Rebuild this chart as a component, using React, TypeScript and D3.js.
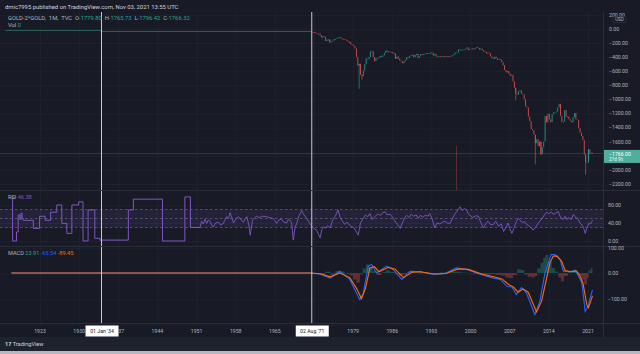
import React from "react";
import * as d3 from "d3";

const W = 640;
const H = 354;

// axis ticks
const yearTicks = d3.range(1923, 2022, 7);
const priceTicks = d3.range(200, -2201, -200);
const rsiTicks = [80, 40, 0];
const macdTicks = [100, 0, -100, -200];

// GOLD-2*GOLD (= -gold), flat era before the float
const earlyPrice: [number, number][] = [
  [1916.8, -20.67],
  [1934.0, -35],
  [1971.5, -40],
];

// quarterly closes from Q3 1971
const quarterStart = 1971.5;
const closes = [
  -42, -43,
  -48, -62, -65, -64,
  -90, -120, -100, -112,
  -170, -150, -150, -185,
  -178, -166, -142, -140,
  -130, -124, -116, -134,
  -148, -142, -154, -164,
  -182, -184, -218, -226,
  -242, -278, -398, -520,
  -494, -650, -668, -590,
  -500, -420, -430, -398,
  -320, -316, -398, -456,
  -414, -416, -404, -382,
  -394, -374, -342, -308,
  -330, -318, -326, -326,
  -344, -346, -424, -390,
  -420, -448, -460, -486,
  -456, -438, -398, -410,
  -386, -372, -366, -400,
  -368, -352, -408, -386,
  -356, -366, -354, -354,
  -342, -344, -350, -334,
  -338, -376, -356, -390,
  -390, -386, -396, -384,
  -384, -388, -384, -388,
  -396, -382, -378, -370,
  -350, -334, -332, -290,
  -300, -296, -294, -288,
  -280, -262, -298, -290,
  -278, -290, -274, -272,
  -258, -270, -292, -278,
  -302, -318, -324, -346,
  -334, -346, -388, -416,
  -426, -394, -416, -438,
  -428, -436, -472, -514,
  -582, -614, -598, -632,
  -662, -650, -742, -834,
  -916, -930, -884, -870,
  -916, -928, -996, -1096,
  -1114, -1244, -1308, -1420,
  -1438, -1502, -1620, -1564,
  -1662, -1598, -1772, -1676,
  -1596, -1234, -1326, -1204,
  -1284, -1322, -1210, -1184,
  -1184, -1172, -1114, -1062,
  -1234, -1320, -1314, -1150,
  -1248, -1242, -1280, -1302,
  -1324, -1252, -1192, -1282,
  -1292, -1408, -1472, -1518,
  -1578, -1780, -1886, -1896,
  -1708, -1770, -1756, -1766,
];

// spike extremes [year, value]
const wicks: [number, number][] = [
  [1974.9, -197],
  [1980.0, -850],
  [1980.6, -720],
  [2008.1, -1010],
  [2011.6, -1920],
  [2012.7, -1790],
  [2020.6, -2070],
  [2021.2, -1880],
];

const volumes: [number, number][] = [[1997.4, 1]];

// RSI
const rsiEarly: [number, number][] = [
  [1917.9, 96], [1918.1, 0], [1918.8, 20], [1919.1, 58], [1919.4, 48],
  [1919.6, 62], [1919.8, 50], [1920.0, 46], [1921.8, 28], [1922.9, 55],
  [1923.9, 46], [1924.9, 64], [1926.0, 80], [1926.9, 39], [1927.8, 17],
  [1928.7, 80], [1929.9, 87], [1930.7, 0], [1931.6, 69], [1932.8, 6],
  [1933.7, 2], [1938.8, 69], [1939.7, 93], [1944.9, 0], [1948.9, 98],
  [1949.9, 30], [1951.6, 30],
];
const rsiLate: [number, number][] = [
  [1951.6, 30], [1951.9, 44], [1952.2, 38], [1952.5, 48], [1952.8, 39],
  [1953.1, 47], [1953.4, 44], [1953.7, 36], [1954.0, 31], [1954.4, 40],
  [1954.9, 42], [1955.3, 36], [1955.8, 39], [1956.1, 48], [1956.4, 54],
  [1956.7, 50], [1957.0, 63], [1957.3, 52], [1957.6, 40], [1958.0, 48],
  [1958.5, 54], [1959.0, 46], [1959.4, 42], [1959.7, 50], [1960.0, 54],
  [1960.3, 38], [1960.6, 13], [1961.0, 46], [1961.4, 52], [1961.7, 55],
  [1962.2, 52], [1962.8, 55], [1963.5, 54], [1964.1, 52], [1964.7, 50],
  [1965.0, 45], [1965.3, 39], [1965.7, 47], [1966.2, 48], [1966.6, 42],
  [1967.1, 40], [1967.4, 48], [1967.7, 46], [1968.0, 40], [1968.3, 2],
  [1968.6, 30], [1968.9, 39], [1969.3, 55], [1969.8, 68], [1970.2, 58],
  [1970.7, 50], [1971.1, 42], [1971.6, 33], [1972.0, 28], [1972.5, 24],
  [1972.8, 15], [1973.1, 7], [1973.4, 26], [1973.7, 32], [1974.0, 28],
  [1974.4, 34], [1974.9, 29], [1975.3, 45], [1975.8, 55], [1976.3, 69],
  [1976.7, 52], [1977.1, 44], [1977.5, 37], [1977.9, 42], [1978.3, 36],
  [1978.7, 32], [1979.1, 30], [1979.5, 22], [1979.9, 13], [1980.3, 40],
  [1980.8, 50], [1981.2, 58], [1981.6, 54], [1982.0, 61], [1982.4, 48],
  [1982.9, 54], [1983.4, 60], [1983.9, 57], [1984.3, 63], [1984.7, 65],
  [1985.1, 58], [1985.6, 60], [1986.2, 50], [1986.6, 42], [1987.0, 36],
  [1987.4, 28], [1987.8, 40], [1988.2, 52], [1988.6, 57], [1989.0, 52],
  [1989.4, 60], [1989.8, 55], [1990.3, 58], [1990.6, 50], [1991.0, 57],
  [1991.5, 53], [1992.0, 58], [1992.4, 55], [1992.7, 61], [1993.1, 50],
  [1993.6, 29], [1994.0, 40], [1994.5, 38], [1995.0, 42], [1995.4, 44],
  [1995.8, 40], [1996.3, 39], [1996.7, 48], [1997.1, 58], [1997.5, 65],
  [1998.1, 76], [1998.5, 68], [1998.9, 72], [1999.3, 69], [1999.6, 60],
  [1999.9, 57], [2000.4, 52], [2000.9, 56], [2001.4, 55], [2001.8, 42],
  [2002.3, 29], [2002.7, 38], [2003.1, 44], [2003.6, 36], [2004.1, 37],
  [2004.5, 44], [2005.0, 33], [2005.5, 38], [2005.9, 21], [2006.3, 30],
  [2006.7, 40], [2007.0, 28], [2007.4, 17], [2007.8, 30], [2008.2, 44],
  [2008.5, 50], [2008.9, 46], [2009.3, 40], [2009.6, 44], [2010.0, 37],
  [2010.4, 34], [2010.8, 30], [2011.2, 24], [2011.6, 30], [2012.0, 38],
  [2012.4, 44], [2012.8, 50], [2013.2, 58], [2013.6, 64], [2014.0, 60],
  [2014.4, 65], [2014.8, 59], [2015.2, 62], [2015.7, 65], [2016.1, 52],
  [2016.6, 48], [2016.9, 55], [2017.2, 48], [2017.6, 52], [2018.0, 48],
  [2018.4, 59], [2018.8, 52], [2019.2, 50], [2019.6, 39], [2019.9, 36],
  [2020.2, 30], [2020.5, 17], [2020.9, 32], [2021.2, 40], [2021.5, 38],
  [2021.8, 46.38],
];

// MACD [year, value]
const macdLine: [number, number][] = [
  [1917.9, 0], [1971.5, 0], [1973.1, -5], [1974.9, -20], [1976.6, 7],
  [1978.4, -25], [1979.6, -78], [1980.2, -104], [1980.8, -80], [1981.7, 27],
  [1982.3, 33], [1983.2, 0], [1985.0, 27], [1986.1, 15], [1987.7, -25],
  [1989.2, 7], [1991.0, 5], [1993.3, -6], [1995.4, -2], [1997.5, 20],
  [1999.3, 14], [2001.7, -5], [2003.8, -18], [2005.3, -25], [2006.5, -52],
  [2007.4, -55], [2008.2, -84], [2009.1, -57], [2010.0, -78], [2011.5, -163],
  [2012.4, -110], [2013.3, 0], [2013.9, 39], [2014.4, 72], [2015.1, 72],
  [2016.0, 53], [2016.6, 7], [2017.8, 5], [2018.7, 11], [2019.3, -12],
  [2019.9, -38], [2020.5, -150], [2021.0, -130], [2021.8, -65.54],
];
const signalLine: [number, number][] = [
  [1917.9, 0], [1971.5, 0], [1973.1, -3], [1974.9, -15], [1976.6, 0],
  [1978.4, -18], [1979.6, -60], [1980.5, -100], [1981.2, -60], [1982.0, 20],
  [1982.8, 25], [1983.6, 5], [1985.3, 22], [1986.5, 15], [1988.0, -18],
  [1989.5, 3], [1991.0, 5], [1993.5, -4], [1995.6, -2], [1997.8, 16],
  [1999.6, 14], [2002.0, -4], [2004.1, -15], [2005.6, -23], [2006.8, -45],
  [2007.7, -55], [2008.5, -75], [2009.4, -62], [2010.3, -75], [2011.8, -152],
  [2012.7, -110], [2013.6, -20], [2014.2, 40], [2014.8, 66], [2015.5, 66],
  [2016.3, 45], [2016.9, 10], [2018.0, 5], [2018.9, 8], [2019.5, -8],
  [2020.1, -40], [2020.8, -125], [2021.1, -135], [2021.8, -89.45],
];
const histogram: [number, number][] = [
  [1971.5, 0], [1972.5, -4], [1973.3, -8], [1974.0, 5], [1975.0, -6],
  [1975.8, 8], [1976.6, 6], [1977.5, -3], [1978.4, -10], [1979.0, -25],
  [1979.6, -38], [1980.2, -5], [1980.7, 18], [1981.3, 33], [1981.9, 22],
  [1982.5, 8], [1983.2, -8], [1984.0, 3], [1984.8, 10], [1985.6, 4],
  [1986.4, -4], [1987.2, -10], [1987.9, -6], [1988.7, 6], [1989.5, 4],
  [1990.5, -2], [1991.5, 2], [1992.5, -1], [1993.4, -4], [1994.5, 2],
  [1995.5, 1], [1996.5, 4], [1997.3, 5], [1998.3, 2], [1999.3, -1],
  [2000.5, -3], [2001.7, -4], [2002.8, -5], [2003.8, -4], [2004.6, -8],
  [2005.4, -10], [2006.2, -18], [2006.9, -20], [2007.6, -8], [2008.3, 15],
  [2009.0, 12], [2009.6, -6], [2010.2, -15], [2010.9, -18], [2011.5, -12],
  [2011.9, 18], [2012.5, 40], [2013.0, 60], [2013.4, 70], [2013.9, 45],
  [2014.5, 20], [2015.1, 6], [2015.7, -18], [2016.2, -32], [2016.7, -12],
  [2017.4, 5], [2018.0, 8], [2018.7, 4], [2019.3, -8], [2019.8, -25],
  [2020.3, -45], [2020.8, -20], [2021.1, 10], [2021.5, 20], [2021.8, 23.91],
];

const markers = [
  { year: 1934.0, label: "01 Jan '34" },
  { year: 1971.6, label: "02 Aug '71" },
];

// layout
const plotR = 603;
const priceTop = 12, priceBot = 190;
const rsiTop = 190, rsiBot = 246;
const macdTop = 246, macdBot = 323;
const axisBot = 337;

const BG = "#181b26";
const GRID = "#22263199";
const SEP = "#2a2e39";
const TXT = "#b2b5be";
const UP = "#26a69a";
const DOWN = "#ef5350";
const FONT = "Roboto, 'DejaVu Sans', sans-serif";

export default function App() {
  const x = d3.scaleLinear().domain([1923, 2021]).range([40, 588]);
  const yP = d3.scaleLinear().domain([0, -2200]).range([29, 184]);
  const yR = d3.scaleLinear().domain([0, 80]).range([241, 205]);
  const yM = d3.scaleLinear().domain([0, -100]).range([273, 298.6]);
  const yV = d3.scaleLinear().domain([0, 1]).range([priceBot, 146]);

  const fmt = d3.format(".2f");
  const line = (ys: d3.ScaleLinear<number, number>) =>
    d3.line<[number, number]>().x((d) => x(d[0])).y((d) => ys(d[1]));

  const step = 0.25;
  const candleW = Math.max(0.8, x(quarterStart + step) - x(quarterStart) - 0.5);
  const candles = closes.map((c, i) => {
    const open = i === 0 ? earlyPrice[earlyPrice.length - 1][1] : closes[i - 1];
    return { year: quarterStart + i * step, open, close: c };
  });

  const histPos = d3
    .area<[number, number]>()
    .curve(d3.curveStepAfter)
    .x((d) => x(d[0]))
    .y0(yM(0))
    .y1((d) => yM(Math.max(0, d[1])));
  const histNeg = d3
    .area<[number, number]>()
    .curve(d3.curveStepAfter)
    .x((d) => x(d[0]))
    .y0(yM(0))
    .y1((d) => yM(Math.min(0, d[1])));

  const last = closes[closes.length - 1];

  // labels hidden behind the marker boxes / last-price tag
  const visibleYears = yearTicks.filter((t) => markers.every((m) => Math.abs(x(t) - x(m.year)) > 8));
  const visiblePrices = priceTicks.filter((t) => Math.abs(yP(t) - yP(last)) > 8);

  return (
    <svg
      width={W}
      height={H}
      style={{ position: "fixed", left: 0, top: 0, display: "block" }}
      fontFamily={FONT}
    >
      <defs>
        <clipPath id="cp-price">
          <rect x={0} y={priceTop} width={plotR} height={priceBot - priceTop} />
        </clipPath>
        <clipPath id="cp-rsi">
          <rect x={0} y={rsiTop} width={plotR} height={rsiBot - rsiTop} />
        </clipPath>
        <clipPath id="cp-macd">
          <rect x={0} y={macdTop} width={plotR} height={macdBot - macdTop} />
        </clipPath>
        <clipPath id="cp-paxis">
          <rect x={plotR} y={priceTop} width={W - plotR} height={priceBot - priceTop} />
        </clipPath>
        <clipPath id="cp-maxis">
          <rect x={plotR} y={macdTop} width={W - plotR} height={macdBot - macdTop} />
        </clipPath>
      </defs>

      <rect width={W} height={H} fill={BG} />

      {/* grid */}
      <g stroke={GRID} strokeWidth={1}>
        {yearTicks.map((t) => (
          <line key={t} x1={x(t) + 0.5} x2={x(t) + 0.5} y1={priceTop} y2={macdBot} />
        ))}
        {priceTicks.map((t) => (
          <line key={t} x1={0} x2={plotR} y1={yP(t) + 0.5} y2={yP(t) + 0.5} />
        ))}
        {rsiTicks.map((t) => (
          <line key={t} x1={0} x2={plotR} y1={yR(t) + 0.5} y2={yR(t) + 0.5} />
        ))}
        {macdTicks.map((t) => (
          <line key={t} x1={0} x2={plotR} y1={yM(t) + 1.5} y2={yM(t) + 1.5} />
        ))}
      </g>

      {/* price pane */}
      <g clipPath="url(#cp-price)">
        <line x1={0} x2={plotR} y1={yP(last)} y2={yP(last)} stroke={UP} strokeOpacity={0.3} />
        {volumes.map(([yr, v]) => (
          <rect key={yr} x={x(yr)} y={yV(v)} width={0.7} height={yV(0) - yV(v)} fill={DOWN} fillOpacity={0.45} />
        ))}
        <path
          d={line(yP).curve(d3.curveStepAfter)(earlyPrice) || ""}
          fill="none"
          stroke="#2f5f5c"
          strokeWidth={1}
        />
        {wicks.map(([yr, v]) => {
          const c = candles[Math.min(candles.length - 1, Math.max(0, Math.floor((yr - quarterStart) / step)))];
          return (
            <line
              key={yr}
              x1={x(c.year) + candleW / 2}
              x2={x(c.year) + candleW / 2}
              y1={yP(Math.max(c.open, c.close))}
              y2={yP(v)}
              stroke={c.close >= c.open ? UP : DOWN}
              strokeWidth={0.7}
              strokeOpacity={0.85}
            />
          );
        })}
        {candles.map((c) => {
          const y1 = yP(Math.max(c.open, c.close));
          const y2 = yP(Math.min(c.open, c.close));
          return (
            <rect
              key={c.year}
              x={x(c.year)}
              y={y1}
              width={candleW}
              height={Math.max(0.8, y2 - y1)}
              fill={c.close >= c.open ? UP : DOWN}
              fillOpacity={0.9}
            />
          );
        })}
      </g>

      {/* RSI pane */}
      <g clipPath="url(#cp-rsi)">
        <rect x={0} y={yR(70)} width={plotR} height={yR(30) - yR(70)} fill="#7e57c2" fillOpacity={0.12} />
        {[70, 50, 30].map((t) => (
          <line
            key={t}
            x1={0}
            x2={plotR}
            y1={yR(t)}
            y2={yR(t)}
            stroke="#787b86"
            strokeOpacity={0.7}
            strokeDasharray="2.5 2.5"
            strokeWidth={0.8}
          />
        ))}
        <path d={line(yR).curve(d3.curveStepAfter)(rsiEarly) || ""} fill="none" stroke="#7e57c2" strokeWidth={1} />
        <path d={line(yR)(rsiLate) || ""} fill="none" stroke="#7e57c2" strokeWidth={0.9} />
      </g>

      {/* MACD pane */}
      <g clipPath="url(#cp-macd)">
        <path d={histPos(histogram) || ""} fill={UP} fillOpacity={0.35} />
        <path d={histNeg(histogram) || ""} fill={DOWN} fillOpacity={0.35} />
        <path d={line(yM)(macdLine) || ""} fill="none" stroke="#2962ff" strokeWidth={1.1} />
        <path d={line(yM)(signalLine) || ""} fill="none" stroke="#ff6d00" strokeWidth={1.1} />
      </g>

      {/* marker verticals */}
      {markers.map((m) => (
        <line key={m.label} x1={x(m.year)} x2={x(m.year)} y1={priceTop} y2={macdBot} stroke="#c8cad0" strokeWidth={1} />
      ))}

      {/* separators */}
      <g stroke={SEP} strokeWidth={1}>
        <line x1={0} x2={W} y1={rsiTop + 0.5} y2={rsiTop + 0.5} />
        <line x1={0} x2={W} y1={macdTop + 0.5} y2={macdTop + 0.5} />
        <line x1={0} x2={W} y1={macdBot + 0.5} y2={macdBot + 0.5} />
        <line x1={plotR + 0.5} x2={plotR + 0.5} y1={priceTop} y2={axisBot} />
      </g>

      {/* price axis */}
      <g clipPath="url(#cp-paxis)" fontSize={5.2} fill={TXT}>
        {visiblePrices.map((t) => (
          <text key={t} x={609} y={yP(t)} dy="0.35em">
            {fmt(t)}
          </text>
        ))}
      </g>
      <rect x={613} y={16.5} width={13} height={6} rx={1} fill={BG} stroke="#3a3e4a" strokeWidth={0.5} />
      <text x={619.5} y={19.6} fontSize={4.6} fill={TXT} textAnchor="middle" dy="0.35em">USD</text>
      <rect x={plotR + 1} y={yP(last) - 3.5} width={W - plotR - 1} height={13} fill="#4fae9c" />
      <text x={609} y={yP(last) + 0.5} fontSize={5.2} fill="#ffffff" dy="0.35em">{fmt(last)}</text>
      <text x={609} y={yP(last) + 6.2} fontSize={4.6} fill="#e8f5f2" dy="0.35em">27d 9h</text>

      {/* RSI axis */}
      <g fontSize={5.2} fill={TXT}>
        {rsiTicks.map((t) => (
          <text key={t} x={608} y={yR(t)} dy="0.35em">
            {fmt(t)}
          </text>
        ))}
      </g>

      {/* MACD axis */}
      <g clipPath="url(#cp-maxis)" fontSize={5.2} fill={TXT}>
        {macdTicks.map((t) => (
          <text key={t} x={608} y={yM(t) + 0.5} dy="0.35em">
            {fmt(t)}
          </text>
        ))}
      </g>

      {/* time axis */}
      <g fontSize={5.2} fill={TXT} textAnchor="middle">
        {visibleYears.map((t) => (
          <text key={t} x={x(t)} y={331} dy="0.35em">
            {t}
          </text>
        ))}
      </g>
      {markers.map((m) => (
        <g key={m.label}>
          <rect x={x(m.year) - 16} y={325.5} width={33} height={11} fill="#ffffff" />
          <text x={x(m.year) + 0.5} y={331} fontSize={5.2} fill="#131722" textAnchor="middle" dy="0.35em">
            {m.label}
          </text>
        </g>
      ))}

      {/* legends */}
      <text x={5} y={7} fontSize={5.9} fill="#d1d4dc" dy="0.35em">
        dmic7995 published on TradingView.com, Nov 03, 2021 13:55 UTC
      </text>
      <text x={8} y={18.3} fontSize={5.8} fill={TXT} dy="0.35em" wordSpacing={1.5}>
        GOLD-2*GOLD, 1M, TVC <tspan>O</tspan>
        <tspan fill={UP}>-1779.80</tspan> <tspan>H</tspan>
        <tspan fill={UP}>-1765.73</tspan> <tspan>L</tspan>
        <tspan fill={UP}>-1796.42</tspan> <tspan>C</tspan>
        <tspan fill={UP}>-1766.32</tspan>
      </text>
      <text x={8} y={24.7} fontSize={5.8} fill={TXT} dy="0.35em">
        Vol <tspan fill={UP}>0</tspan>
      </text>
      <text x={8} y={197.3} fontSize={5.6} fill={TXT} dy="0.35em">
        RSI <tspan fill="#7e57c2">46.38</tspan>
      </text>
      <text x={8} y={253.3} fontSize={5.6} fill={TXT} dy="0.35em">
        MACD <tspan fill={UP}>23.91</tspan> <tspan fill="#2962ff">-65.54</tspan>{" "}
        <tspan fill="#ff6d00">-89.45</tspan>
      </text>

      {/* footer */}
      <rect x={0} y={axisBot} width={W} height={14} fill="#1e222d" />
      <rect x={0} y={351} width={W} height={3} fill="#b6b8be" />
      <text x={5} y={344.5} fontSize={5.6} fill="#d1d4dc" dy="0.35em">
        <tspan fontWeight="bold">17</tspan> TradingView
      </text>
    </svg>
  );
}
